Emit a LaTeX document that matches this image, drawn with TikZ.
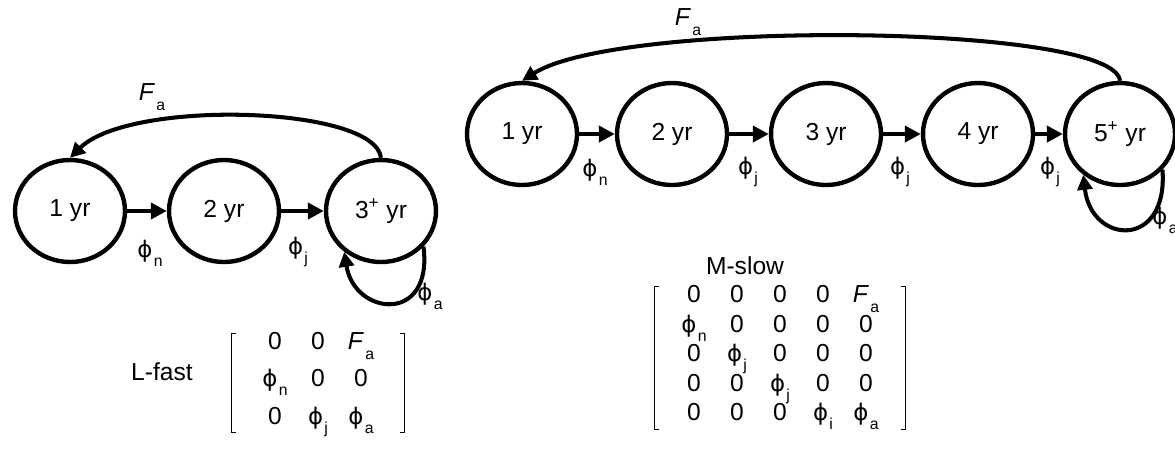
\documentclass[tikz,border=0pt]{standalone}
\usepackage{fontspec}
\setmainfont{Liberation Sans}
\newfontfamily\grk{DejaVu Sans}
\usetikzlibrary{shapes.geometric,arrows.meta,matrix}

\newcommand{\ph}[1]{{\grk\fontsize{13}{15}\selectfont ϕ}\kern0.05em\raisebox{-0.7ex}{\small #1}}
\newcommand{\Fa}{\textit{F}\kern0.05em\raisebox{-0.8ex}{\small a}}

\begin{document}
\begin{tikzpicture}[x=0.2mm,y=-0.2mm,
  every node/.style={font=\fontsize{14}{16}\selectfont},
  stage/.style={draw,ellipse,line width=2.5pt,minimum width=22mm,minimum height=20.4mm,inner sep=0},
  flow/.style={line width=2.8pt,-{Triangle[length=3.2mm,width=3.2mm]}},
  back/.style={line width=2.3pt,-{Triangle[length=3mm,width=3mm]}},
  bracket/.style={line width=0.6pt},
  agecells/.style={matrix of nodes,nodes={minimum width=8.6mm,text height=2.7mm,text depth=1.3mm,inner sep=0}}]

\useasboundingbox (0,0) rectangle (1175,469);

% L-fast
\node[stage] (l1) at (70,211) {1 yr};

\node[stage] (l2) at (224,211) {2 yr};

\node[stage] (l3) at (381,211) {3\textsuperscript{+} yr};

\draw[flow] (l1) -- (l2);
\draw[flow] (l2) -- (l3);
\draw[back] (l3.north) .. controls +(-6,-52) and +(60,-59) .. (l1.north);
\draw[back] (l3.-40) .. controls +(10,78) and +(10,64) .. (l3.-132);

\node (lfa) at (152,97) {\Fa};
\node (lphn) at (150,253) {\ph{n}};
\node (lphj) at (298,252) {\ph{j}};
\node (lpha) at (430,296) {\ph{a}};

\node (lfast) at (162,372) {L-fast};

\matrix (lmat) [agecells,row sep=3.5mm,inner xsep=4.3mm,inner ysep=0.3mm] at (318,383) {
0 & 0 & \Fa \\
\ph{n} & 0 & 0 \\
0 & \ph{j} & \ph{a} \\
};
\draw[bracket] ([xshift=0.9mm]lmat.north west) -| (lmat.south west) -- ++(0.9mm,0pt);
\draw[bracket] ([xshift=-0.9mm]lmat.north east) -| (lmat.south east) -- ++(-0.9mm,0pt);

% M-slow
\node[stage] (m1) at (522,134) {1 yr};

\node[stage] (m2) at (672,134) {2 yr};

\node[stage] (m3) at (826,134) {3 yr};

\node[stage] (m4) at (978,134) {4 yr};

\node[stage] (m5) at (1120,134) {5\textsuperscript{+} yr};

\draw[flow] (m1) -- (m2);
\draw[flow] (m2) -- (m3);
\draw[flow] (m3) -- (m4);
\draw[flow] (m4) -- (m5);
\draw[back] (m5.north) .. controls +(-5,-57) and +(98,-62) .. (m1.north);
\draw[back] (m5.-40) .. controls +(6,80) and +(8,70) .. (m5.-132);

\node (mfa) at (688,22) {\Fa};
\node (mphn) at (595,172) {\ph{n}};
\node (mphj1) at (748,172) {\ph{j}};
\node (mphj2) at (900,172) {\ph{j}};
\node (mphj3) at (1050,172) {\ph{j}};
\node (mpha) at (1165,220) {\ph{a}};

\node (mslow) at (745,266) {M-slow};

\matrix (mmat) [agecells,row sep=1.9mm,inner xsep=3.6mm,inner ysep=0.4mm] at (780,358) {
0 & 0 & 0 & 0 & \Fa \\
\ph{n} & 0 & 0 & 0 & 0 \\
0 & \ph{j} & 0 & 0 & 0 \\
0 & 0 & \ph{j} & 0 & 0 \\
0 & 0 & 0 & \ph{i} & \ph{a} \\
};
\draw[bracket] ([xshift=0.9mm]mmat.north west) -| (mmat.south west) -- ++(0.9mm,0pt);
\draw[bracket] ([xshift=-0.9mm]mmat.north east) -| (mmat.south east) -- ++(-0.9mm,0pt);

\end{tikzpicture}
\end{document}
